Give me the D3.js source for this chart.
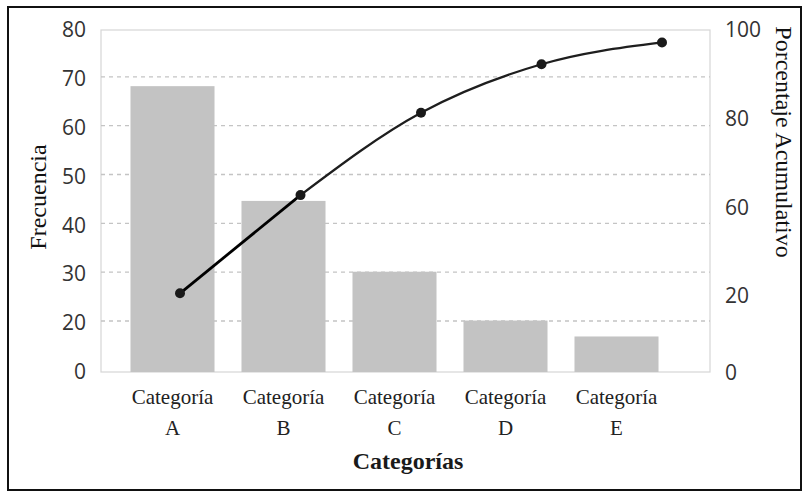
<!DOCTYPE html>
<html>
<head>
<meta charset="utf-8">
<script src="https://cdn.jsdelivr.net/npm/d3@7"></script>
<style>
  html, body { margin: 0; padding: 0; background: #fff; }
  svg { display: block; }
</style>
</head>
<body>
<svg id="chart" width="808" height="497"></svg>
<script>
// ---- data ----
const categories = ["A", "B", "C", "D", "E"];
const categoryPrefix = "Categoría";
const frequency = [68.5, 45, 30.5, 20.5, 14.5];
const cumulativePct = [21, 62.8, 81.4, 92.3, 97.2];
const leftTicks = [0, 20, 30, 40, 50, 60, 70, 80];
const rightTicks = [0, 20, 60, 80, 100];
const xTitle = "Categorías";
const yLeftTitle = "Frecuencia";
const yRightTitle = "Porcentaje Acumulativo";

// ---- layout ----
const svg = d3.select("#chart");
const plot = { left: 101, right: 710, top: 30, bottom: 372 };

const x = d3.scaleBand().domain(categories).range([117, 672])
  .paddingInner(0.243).paddingOuter(0.1215);
const xLine = d3.scalePoint().domain(categories).range([180, 662]);

// axis labels are unevenly spaced in the original, so piecewise-linear scales
const yLeft = d3.scaleLinear().domain([0, 20, 80]).range([372, 323, 30]);
const yRight = d3.scaleLinear().domain([0, 20, 60, 80, 100]).range([372.5, 295.5, 207.5, 119, 30]);

// outer border
svg.append("rect").attr("x", 8).attr("y", 7).attr("width", 793).attr("height", 483)
  .attr("fill", "none").attr("stroke", "#111").attr("stroke-width", 2);

// plot frame
svg.append("rect").attr("x", plot.left).attr("y", plot.top)
  .attr("width", plot.right - plot.left).attr("height", plot.bottom - plot.top)
  .attr("fill", "#fff").attr("stroke", "#d6d6d6").attr("stroke-width", 1.2);

// gridlines
svg.append("g").selectAll("line")
  .data(leftTicks.filter(d => d > 0 && d < 80))
  .join("line")
  .attr("x1", plot.left).attr("x2", plot.right)
  .attr("y1", d => yLeft(d) - 2).attr("y2", d => yLeft(d) - 2)
  .attr("stroke", "#c4c4c4").attr("stroke-width", 1.3)
  .attr("stroke-dasharray", "4,4");

// bars
svg.append("g").selectAll("rect")
  .data(categories)
  .join("rect")
  .attr("x", d => x(d))
  .attr("width", x.bandwidth())
  .attr("y", (d, i) => yLeft(frequency[i]))
  .attr("height", (d, i) => yLeft(0) - yLeft(frequency[i]))
  .attr("fill", "#c3c3c3");

// left axis
const leftAxis = d3.axisLeft(yLeft).tickValues(leftTicks).tickSize(0).tickPadding(0);
const gL = svg.append("g").attr("transform", "translate(86,0)").call(leftAxis);
gL.select(".domain").remove();
gL.selectAll("text").attr("font-family", "'Open Sans', sans-serif")
  .attr("font-size", 21).attr("fill", "#333");

// right axis
const rightAxis = d3.axisRight(yRight).tickValues(rightTicks).tickSize(0).tickPadding(0);
const gR = svg.append("g").attr("transform", "translate(725,0)").call(rightAxis);
gR.select(".domain").remove();
gR.selectAll("text").attr("font-family", "'Open Sans', sans-serif")
  .attr("font-size", 21).attr("fill", "#333");

// bottom category labels
const gX = svg.append("g");
gX.selectAll("text.l1").data(categories).join("text").attr("class", "l1")
  .attr("x", d => x(d) + x.bandwidth() / 2).attr("y", 404)
  .attr("text-anchor", "middle")
  .attr("font-family", "'Liberation Serif', serif").attr("font-size", 21)
  .attr("fill", "#222").text(categoryPrefix);
gX.selectAll("text.l2").data(categories).join("text").attr("class", "l2")
  .attr("x", d => x(d) + x.bandwidth() / 2).attr("y", 435)
  .attr("text-anchor", "middle")
  .attr("font-family", "'Liberation Serif', serif").attr("font-size", 21)
  .attr("fill", "#222").text(d => d);

// axis titles
svg.append("text").attr("x", 408).attr("y", 469).attr("text-anchor", "middle")
  .attr("font-family", "'Liberation Serif', serif").attr("font-size", 24)
  .attr("font-weight", "bold").attr("fill", "#1a1a1a").text(xTitle);
svg.append("text").attr("transform", "translate(46,197) rotate(-90)")
  .attr("text-anchor", "middle")
  .attr("font-family", "'Liberation Serif', serif").attr("font-size", 24)
  .attr("fill", "#111").text(yLeftTitle);
svg.append("text").attr("transform", "translate(776,142) rotate(90)")
  .attr("text-anchor", "middle")
  .attr("font-family", "'Liberation Serif', serif").attr("font-size", 24)
  .attr("fill", "#111").text(yRightTitle);

// cumulative line
const pts = categories.map((c, i) => [xLine(c), yRight(cumulativePct[i])]);
svg.append("path").datum(pts.slice(0, 2))
  .attr("d", d3.line())
  .attr("fill", "none").attr("stroke", "#000").attr("stroke-width", 2.8);
svg.append("path").datum(pts.slice(1))
  .attr("d", d3.line().curve(d3.curveMonotoneX))
  .attr("fill", "none").attr("stroke", "#1e1e1e").attr("stroke-width", 2.2);
svg.append("g").selectAll("circle").data(pts).join("circle")
  .attr("cx", d => d[0]).attr("cy", d => d[1]).attr("r", 5)
  .attr("fill", "#1a1a1a");
</script>
</body>
</html>
